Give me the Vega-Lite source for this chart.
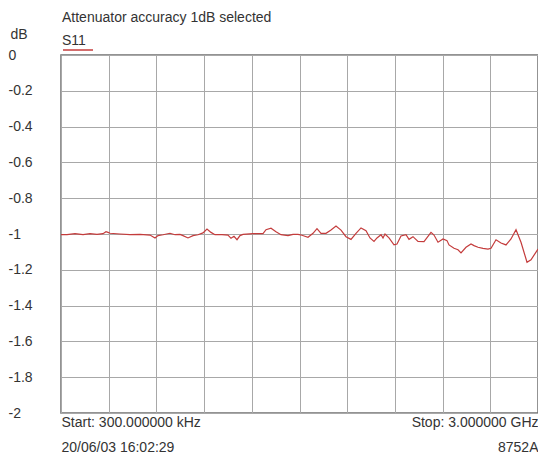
{
  "$schema": "https://vega.github.io/schema/vega-lite/v6.json",
  "width": 477,
  "height": 358,
  "autosize": {"type": "none"},
  "padding": {"left": 61, "top": 55, "right": 0, "bottom": 49},
  "background": "white",
  "config": {
    "font": "Liberation Sans",
    "view": {"stroke": "#707070", "strokeWidth": 1.5},
    "axis": {"labelFont": "Liberation Sans", "titleFont": "Liberation Sans", "labelColor": "#333333", "titleColor": "#333333"}
  },
  "title": {
    "text": "Attenuator accuracy 1dB selected",
    "anchor": "start",
    "frame": "group",
    "fontSize": 14,
    "fontWeight": "normal",
    "color": "#333333",
    "font": "Liberation Sans",
    "offset": 2,
    "dx": 1
  },
  "data": {
    "values": [
      {"f": 0.3, "db": -1.003, "s": "S11"},
      {"f": 38.0, "db": -1.004, "s": "S11"},
      {"f": 88.3, "db": -0.998, "s": "S11"},
      {"f": 138.7, "db": -1.004, "s": "S11"},
      {"f": 182.7, "db": -0.998, "s": "S11"},
      {"f": 226.7, "db": -1.002, "s": "S11"},
      {"f": 264.4, "db": -0.998, "s": "S11"},
      {"f": 283.3, "db": -0.987, "s": "S11"},
      {"f": 295.9, "db": -0.991, "s": "S11"},
      {"f": 308.4, "db": -0.996, "s": "S11"},
      {"f": 371.3, "db": -1.0, "s": "S11"},
      {"f": 434.2, "db": -1.004, "s": "S11"},
      {"f": 497.1, "db": -1.002, "s": "S11"},
      {"f": 560.0, "db": -1.006, "s": "S11"},
      {"f": 591.4, "db": -1.022, "s": "S11"},
      {"f": 610.3, "db": -1.009, "s": "S11"},
      {"f": 641.7, "db": -1.004, "s": "S11"},
      {"f": 685.7, "db": -0.996, "s": "S11"},
      {"f": 717.2, "db": -1.004, "s": "S11"},
      {"f": 748.6, "db": -1.002, "s": "S11"},
      {"f": 767.5, "db": -1.009, "s": "S11"},
      {"f": 798.9, "db": -1.022, "s": "S11"},
      {"f": 830.4, "db": -1.009, "s": "S11"},
      {"f": 861.8, "db": -1.004, "s": "S11"},
      {"f": 893.3, "db": -0.994, "s": "S11"},
      {"f": 918.4, "db": -0.972, "s": "S11"},
      {"f": 943.6, "db": -0.991, "s": "S11"},
      {"f": 968.7, "db": -1.004, "s": "S11"},
      {"f": 1012.8, "db": -1.004, "s": "S11"},
      {"f": 1050.5, "db": -1.006, "s": "S11"},
      {"f": 1069.4, "db": -1.024, "s": "S11"},
      {"f": 1088.2, "db": -1.013, "s": "S11"},
      {"f": 1107.1, "db": -1.032, "s": "S11"},
      {"f": 1126.0, "db": -1.009, "s": "S11"},
      {"f": 1144.8, "db": -1.002, "s": "S11"},
      {"f": 1207.7, "db": -0.998, "s": "S11"},
      {"f": 1270.6, "db": -0.998, "s": "S11"},
      {"f": 1289.5, "db": -0.976, "s": "S11"},
      {"f": 1320.9, "db": -0.968, "s": "S11"},
      {"f": 1352.4, "db": -0.987, "s": "S11"},
      {"f": 1383.8, "db": -1.004, "s": "S11"},
      {"f": 1427.8, "db": -1.009, "s": "S11"},
      {"f": 1459.3, "db": -1.002, "s": "S11"},
      {"f": 1490.7, "db": -1.002, "s": "S11"},
      {"f": 1515.9, "db": -1.007, "s": "S11"},
      {"f": 1553.6, "db": -1.018, "s": "S11"},
      {"f": 1585.1, "db": -0.996, "s": "S11"},
      {"f": 1610.2, "db": -0.970, "s": "S11"},
      {"f": 1635.4, "db": -0.996, "s": "S11"},
      {"f": 1666.8, "db": -0.996, "s": "S11"},
      {"f": 1698.3, "db": -0.978, "s": "S11"},
      {"f": 1729.7, "db": -0.955, "s": "S11"},
      {"f": 1761.1, "db": -0.978, "s": "S11"},
      {"f": 1792.6, "db": -1.015, "s": "S11"},
      {"f": 1824.0, "db": -1.030, "s": "S11"},
      {"f": 1855.5, "db": -0.996, "s": "S11"},
      {"f": 1886.9, "db": -0.966, "s": "S11"},
      {"f": 1918.4, "db": -0.982, "s": "S11"},
      {"f": 1943.5, "db": -1.022, "s": "S11"},
      {"f": 1968.7, "db": -1.041, "s": "S11"},
      {"f": 1987.5, "db": -1.022, "s": "S11"},
      {"f": 2012.7, "db": -1.004, "s": "S11"},
      {"f": 2025.3, "db": -1.022, "s": "S11"},
      {"f": 2037.8, "db": -1.0, "s": "S11"},
      {"f": 2063.0, "db": -1.022, "s": "S11"},
      {"f": 2094.4, "db": -1.060, "s": "S11"},
      {"f": 2113.3, "db": -1.056, "s": "S11"},
      {"f": 2138.5, "db": -1.011, "s": "S11"},
      {"f": 2169.9, "db": -1.004, "s": "S11"},
      {"f": 2188.8, "db": -1.030, "s": "S11"},
      {"f": 2213.9, "db": -1.015, "s": "S11"},
      {"f": 2245.4, "db": -1.041, "s": "S11"},
      {"f": 2283.1, "db": -1.043, "s": "S11"},
      {"f": 2327.1, "db": -0.991, "s": "S11"},
      {"f": 2346.0, "db": -1.006, "s": "S11"},
      {"f": 2371.2, "db": -1.046, "s": "S11"},
      {"f": 2402.6, "db": -1.028, "s": "S11"},
      {"f": 2427.8, "db": -1.037, "s": "S11"},
      {"f": 2440.3, "db": -1.061, "s": "S11"},
      {"f": 2471.8, "db": -1.080, "s": "S11"},
      {"f": 2496.9, "db": -1.088, "s": "S11"},
      {"f": 2515.8, "db": -1.106, "s": "S11"},
      {"f": 2547.2, "db": -1.074, "s": "S11"},
      {"f": 2578.7, "db": -1.056, "s": "S11"},
      {"f": 2597.6, "db": -1.065, "s": "S11"},
      {"f": 2622.7, "db": -1.074, "s": "S11"},
      {"f": 2654.2, "db": -1.080, "s": "S11"},
      {"f": 2685.6, "db": -1.084, "s": "S11"},
      {"f": 2704.5, "db": -1.080, "s": "S11"},
      {"f": 2735.9, "db": -1.032, "s": "S11"},
      {"f": 2767.4, "db": -1.050, "s": "S11"},
      {"f": 2798.8, "db": -1.061, "s": "S11"},
      {"f": 2830.2, "db": -1.028, "s": "S11"},
      {"f": 2861.7, "db": -0.976, "s": "S11"},
      {"f": 2893.1, "db": -1.046, "s": "S11"},
      {"f": 2930.9, "db": -1.158, "s": "S11"},
      {"f": 2956.0, "db": -1.144, "s": "S11"},
      {"f": 3000.0, "db": -1.084, "s": "S11"}
    ]
  },
  "mark": {"type": "line", "strokeWidth": 1.2, "clip": true},
  "encoding": {
    "x": {
      "field": "f",
      "type": "quantitative",
      "scale": {"domain": [0.3, 3000], "nice": false, "zero": false},
      "axis": {
        "title": null,
        "values": [0.3, 300.27, 600.24, 900.21, 1200.18, 1500.15, 1800.12, 2100.09, 2400.06, 2700.03, 3000],
        "grid": true,
        "gridColor": "#a8a8a8",
        "gridOpacity": 1,
        "gridWidth": 1,
        "domain": false,
        "ticks": false,
        "tickSize": 0,
        "labelFlush": true,
        "labelOverlap": false,
        "labelFontSize": 14,
        "labelBaseline": "top",
        "labelLineHeight": 25,
        "labelPadding": 2,
        "labelExpr": "datum.value < 1 ? ['Start: 300.000000 kHz', '20/06/03 16:02:29'] : (datum.value > 2999 ? ['Stop: 3.000000 GHz', '8752A'] : '')"
      }
    },
    "y": {
      "field": "db",
      "type": "quantitative",
      "scale": {"domain": [-2, 0], "nice": false},
      "axis": {
        "title": "dB",
        "titleAngle": 0,
        "titleAlign": "left",
        "titleBaseline": "middle",
        "titleFontSize": 14,
        "titleFontWeight": "normal",
        "titleX": -51,
        "titleY": -21,
        "values": [0, -0.2, -0.4, -0.6, -0.8, -1, -1.2, -1.4, -1.6, -1.8, -2],
        "grid": true,
        "gridColor": "#a8a8a8",
        "gridOpacity": 1,
        "gridWidth": 1,
        "domain": false,
        "ticks": false,
        "tickSize": 0,
        "labelAlign": "left",
        "labelBaseline": "middle",
        "labelPadding": 53,
        "labelFontSize": 14,
        "labelFlush": false,
        "labelOverlap": false,
        "labelExpr": "datum.value == 0 ? ' 0' : '' + datum.value"
      }
    },
    "color": {
      "field": "s",
      "type": "nominal",
      "scale": {"range": ["#c43c3c"]},
      "legend": {
        "orient": "none",
        "legendX": 1,
        "legendY": -21,
        "title": "S11",
        "titleFontSize": 14,
        "titleFontWeight": "normal",
        "titleColor": "#333333",
        "titleFont": "Liberation Sans",
        "titlePadding": -14,
        "symbolType": "stroke",
        "symbolSize": 900,
        "symbolStrokeWidth": 1.5,
        "labelExpr": "''",
        "padding": 0
      }
    }
  }
}
